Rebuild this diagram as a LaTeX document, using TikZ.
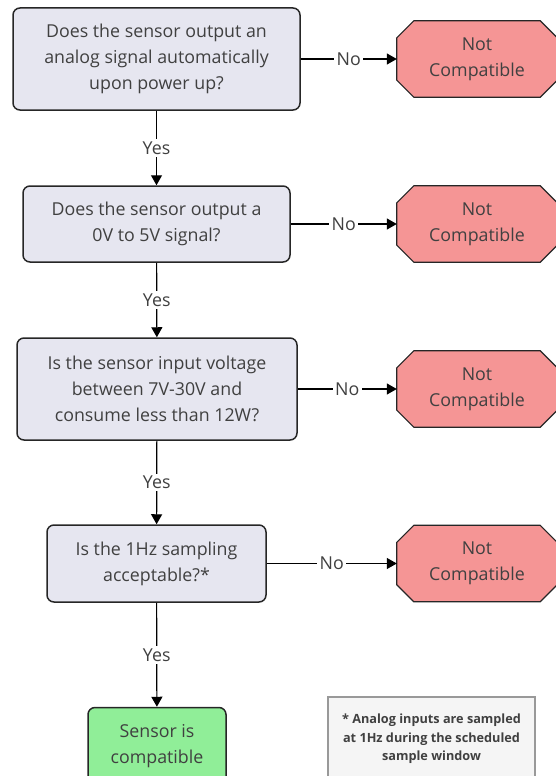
\documentclass[tikz,border=0pt]{standalone}
\usepackage{fontspec}
\setmainfont{Open Sans}
\usetikzlibrary{positioning,arrows.meta,backgrounds}

\definecolor{AskFill}{HTML}{E6E6F0}
\definecolor{FailFill}{HTML}{F59595}
\definecolor{PassFill}{HTML}{90EE98}
\definecolor{NoteFill}{HTML}{F5F5F5}
\definecolor{TextGrey}{HTML}{404040}

\begin{document}
\begin{tikzpicture}
  [x=1pt, y=-1pt,
   box/.style={draw=black!85, line width=1.5pt, rounded corners=7pt, inner sep=0pt,
               align=center, text=TextGrey, font=\fontsize{17.8}{26}\selectfont},
   question/.style={box, fill=AskFill},
   pass/.style={box, fill=PassFill, minimum width=138pt, minimum height=78pt},
   fail/.style={inner sep=0pt, minimum width=160pt, minimum height=76pt,
                align=center, text=TextGrey, font=\fontsize{17.8}{26}\selectfont},
   fail outline/.style={draw=black!85, line width=1.2pt, fill=FailFill, line join=miter},
   footnote box/.style={draw=black!40, line width=1.2pt, fill=NoteFill, inner sep=0pt,
                        minimum width=207pt, minimum height=84pt, align=center,
                        text=TextGrey, font=\bfseries\fontsize{12.7}{18.5}\selectfont},
   flow/.style={draw=black, line width=1.2pt, -{Triangle[length=10pt,width=11pt]}},
   answer/.style={fill=white, inner sep=2.5pt, text=TextGrey,
                  font=\fontsize{17.8}{20}\selectfont}]

  \useasboundingbox (0,0) rectangle (555,776);

  \def\FailX{477}
  \def\Cut{17pt}

  % questions
  \node [question, minimum width=287pt, minimum height=102pt] (ask-1) at (156.5,59)
    {Does the sensor output an\\analog signal automatically\\upon power up?};
  \node [question, minimum width=267pt, minimum height=76pt] (ask-2) at (156.5,224)
    {Does the sensor output a\\0V to 5V signal?};
  \node [question, minimum width=280pt, minimum height=102pt] (ask-3) at (157,389)
    {Is the sensor input voltage\\between 7V-30V and\\consume less than 12W?};
  \node [question, minimum width=219pt, minimum height=77pt] (ask-4) at (156.5,563.5)
    {Is the 1Hz sampling\\acceptable?*};
  \node [pass] (pass) at (157,746.5) {Sensor is\\compatible};

  % not compatible
  \node [fail] (fail-1) at (\FailX,59)    {Not\\Compatible};
  \node [fail] (fail-2) at (\FailX,224)   {Not\\Compatible};
  \node [fail] (fail-3) at (\FailX,389)   {Not\\Compatible};
  \node [fail] (fail-4) at (\FailX,563.5) {Not\\Compatible};

  \begin{scope}[on background layer]
    \foreach \i in {1,...,4}
      \draw [fail outline]
        ([xshift=\Cut]fail-\i.north west) -- ([xshift=-\Cut]fail-\i.north east)
        -- ([yshift=-\Cut]fail-\i.north east) -- ([yshift=\Cut]fail-\i.south east)
        -- ([xshift=-\Cut]fail-\i.south east) -- ([xshift=\Cut]fail-\i.south west)
        -- ([yshift=\Cut]fail-\i.south west) -- ([yshift=-\Cut]fail-\i.north west)
        -- cycle;
  \end{scope}

  \node [footnote box] (note) at (431.5,739)
    {* Analog inputs are sampled\\at 1Hz during the scheduled\\sample window};

  % yes
  \draw [flow] (ask-1) -- node [answer] {Yes} (ask-2);
  \draw [flow] (ask-2) -- node [answer] {Yes} (ask-3);
  \draw [flow] (ask-3) -- node [answer] {Yes} (ask-4);
  \draw [flow] (ask-4) -- node [answer] {Yes} (pass);

  % no
  \draw [flow] (ask-1) -- node [answer] {No} (fail-1);
  \draw [flow] (ask-2) -- node [answer] {No} (fail-2);
  \draw [flow] (ask-3) -- node [answer] {No} (fail-3);
  \draw [flow] (ask-4) -- node [answer] {No} (fail-4);
\end{tikzpicture}
\end{document}
